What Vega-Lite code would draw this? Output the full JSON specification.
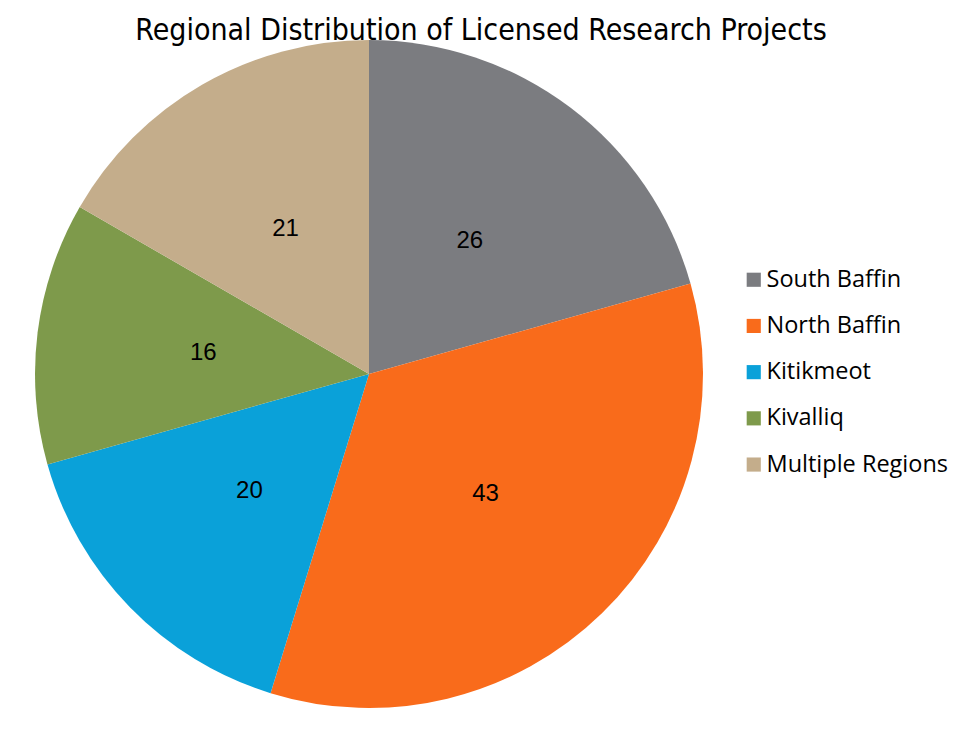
{
  "$schema": "https://vega.github.io/schema/vega-lite/v6.json",
  "width": 668,
  "height": 668,
  "padding": {"left": 35, "top": 16, "right": 20, "bottom": 20},
  "background": "white",
  "title": {
    "text": "Regional Distribution of Licensed Research Projects",
    "font": "Liberation Sans Narrow, DejaVu Sans Condensed, sans-serif",
    "fontSize": 30,
    "fontWeight": "normal",
    "color": "black",
    "anchor": "middle",
    "frame": "bounds",
    "dx": -11,
    "offset": -6
  },
  "data": {
    "values": [
      {"region": "South Baffin", "count": 26, "idx": 1},
      {"region": "North Baffin", "count": 43, "idx": 2},
      {"region": "Kitikmeot", "count": 20, "idx": 3},
      {"region": "Kivalliq", "count": 16, "idx": 4},
      {"region": "Multiple Regions", "count": 21, "idx": 5}
    ]
  },
  "encoding": {
    "theta": {"field": "count", "type": "quantitative", "stack": true},
    "order": {"field": "idx", "type": "quantitative"},
    "color": {
      "field": "region",
      "type": "nominal",
      "sort": ["South Baffin", "North Baffin", "Kitikmeot", "Kivalliq", "Multiple Regions"],
      "scale": {
        "domain": ["South Baffin", "North Baffin", "Kitikmeot", "Kivalliq", "Multiple Regions"],
        "range": ["#7b7c80", "#f96b1b", "#0aa1d9", "#7e9a4b", "#c4ad8b"]
      },
      "legend": {
        "title": null,
        "orient": "none",
        "legendX": 707,
        "legendY": 228,
        "symbolType": "square",
        "symbolSize": 200,
        "symbolStrokeWidth": 0,
        "labelFont": "Open Sans, sans-serif",
        "labelFontSize": 23.5,
        "labelColor": "black",
        "labelOffset": 1,
        "rowPadding": 21.2,
        "labelLimit": 400
      }
    }
  },
  "layer": [
    {"mark": {"type": "arc", "stroke": null}},
    {
      "mark": {"type": "text", "radius": 167, "fontSize": 24, "font": "Liberation Sans, sans-serif", "color": "black"},
      "encoding": {"text": {"field": "count", "type": "quantitative"}, "color": {"value": "black"}}
    }
  ],
  "config": {"view": {"stroke": null}}
}
